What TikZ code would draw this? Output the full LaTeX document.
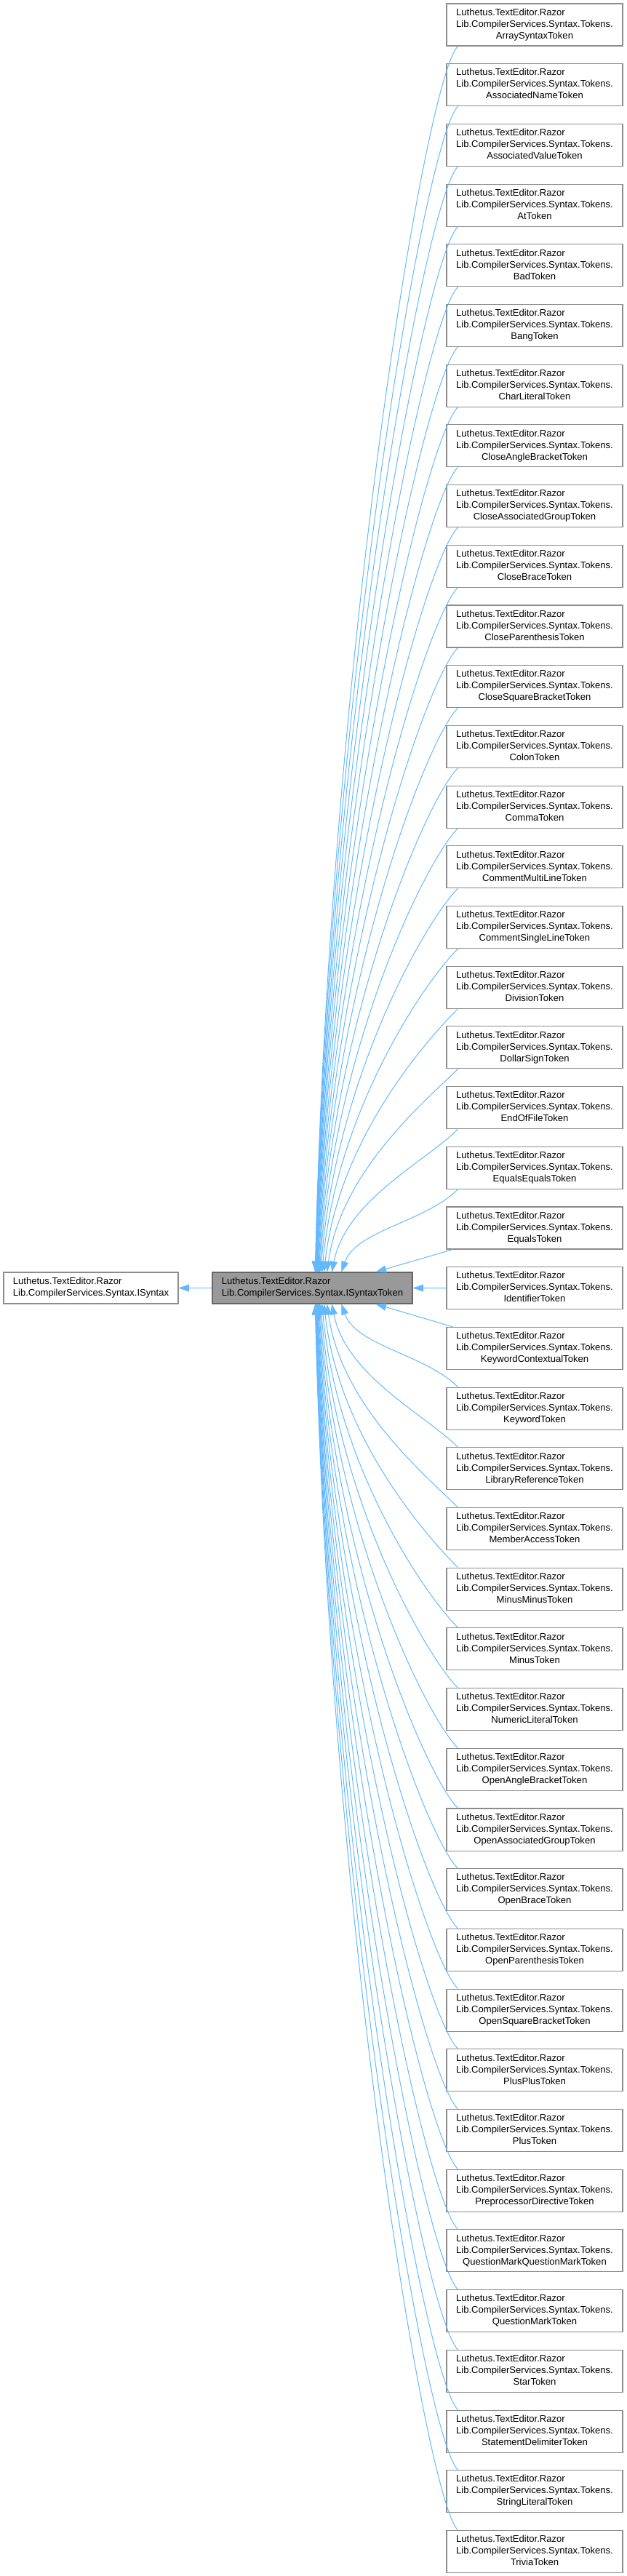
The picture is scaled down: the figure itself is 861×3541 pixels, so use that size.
\documentclass[tikz,border=0pt]{standalone}
\usepackage{fontspec}
\setmainfont{Liberation Sans}
\usetikzlibrary{arrows.meta,calc}
\definecolor{edgeblue}{HTML}{63B8FF}
\definecolor{boxline}{HTML}{8C8C8C}
\definecolor{curfill}{HTML}{999999}
\definecolor{curline}{HTML}{666666}
\newcommand{\tokname}[1]{\begin{tabular}{@{}l@{}}Luthetus.TextEditor.Razor\\Lib.CompilerServices.Syntax.Tokens.\\\multicolumn{1}{@{}c@{}}{#1}\end{tabular}}
\tikzset{
  clsbox/.style={draw=boxline,line width=0.8pt,fill=white,minimum width=181.5pt,minimum height=43.5pt,inner sep=0pt},
  curbox/.style={clsbox,draw=curline,fill=curfill,minimum width=206.25pt,minimum height=32.25pt,align=left},
  inh/.style={draw=edgeblue,line width=0.75pt,-{Triangle[length=11pt,width=7.5pt]}}
}
\begin{document}
\begin{tikzpicture}[x=0.75pt,y=-0.75pt,font=\fontsize{9.8}{12}\selectfont]
\useasboundingbox (0,0) rectangle (861,3541);
\node[curbox] (stoken) at (429.5,1770.5) {Luthetus.TextEditor.Razor\\Lib.CompilerServices.Syntax.ISyntaxToken};
\node[clsbox,minimum width=180pt,minimum height=32.25pt,align=left] (isyntax) at (125,1770.5) {Luthetus.TextEditor.Razor\\Lib.CompilerServices.Syntax.ISyntax};
\foreach \n [count=\i from 0] in {ArraySyntaxToken,AssociatedNameToken,AssociatedValueToken,AtToken,BadToken,BangToken,CharLiteralToken,CloseAngleBracketToken,CloseAssociatedGroupToken,CloseBraceToken,CloseParenthesisToken,CloseSquareBracketToken,ColonToken,CommaToken,CommentMultiLineToken,CommentSingleLineToken,DivisionToken,DollarSignToken,EndOfFileToken,EqualsEqualsToken,EqualsToken,IdentifierToken,KeywordContextualToken,KeywordToken,LibraryReferenceToken,MemberAccessToken,MinusMinusToken,MinusToken,NumericLiteralToken,OpenAngleBracketToken,OpenAssociatedGroupToken,OpenBraceToken,OpenParenthesisToken,OpenSquareBracketToken,PlusPlusToken,PlusToken,PreprocessorDirectiveToken,QuestionMarkQuestionMarkToken,QuestionMarkToken,StarToken,StatementDelimiterToken,StringLiteralToken,TriviaToken} {
  \node[clsbox] (t\i) at (735,{34+82.7*\i}) {\tokname{\n}};
}
\draw[inh] (stoken.west) -- (isyntax.east);
\draw[inh] (t21.west) -- (stoken.east);
\draw[inh] ($(t20.south west)+(9,0)$) -- ($(stoken.north west)+(225,0)$);
\draw[inh] ($(t22.north west)+(9,0)$) -- ($(stoken.south west)+(225,0)$);
\foreach \i in {0,...,19} {
  \pgfmathsetmacro{\xe}{138+80/(21-\i)}
  \pgfmathsetmacro{\h}{0.5*(1749-63-82.7*\i)}
  \draw[inh] ($(t\i.south west)+(16,0)$) .. controls +(-45,45) and ($(stoken.north west)+(\xe+20,-\h)$) .. ($(stoken.north west)+(\xe,0)$);
}
\foreach \i in {23,...,42} {
  \pgfmathsetmacro{\xe}{138+80/(\i-21)}
  \pgfmathsetmacro{\h}{0.5*(5+82.7*\i-1792)}
  \draw[inh] ($(t\i.north west)+(16,0)$) .. controls +(-45,-45) and ($(stoken.south west)+(\xe+20,\h)$) .. ($(stoken.south west)+(\xe,0)$);
}
\end{tikzpicture}
\end{document}
